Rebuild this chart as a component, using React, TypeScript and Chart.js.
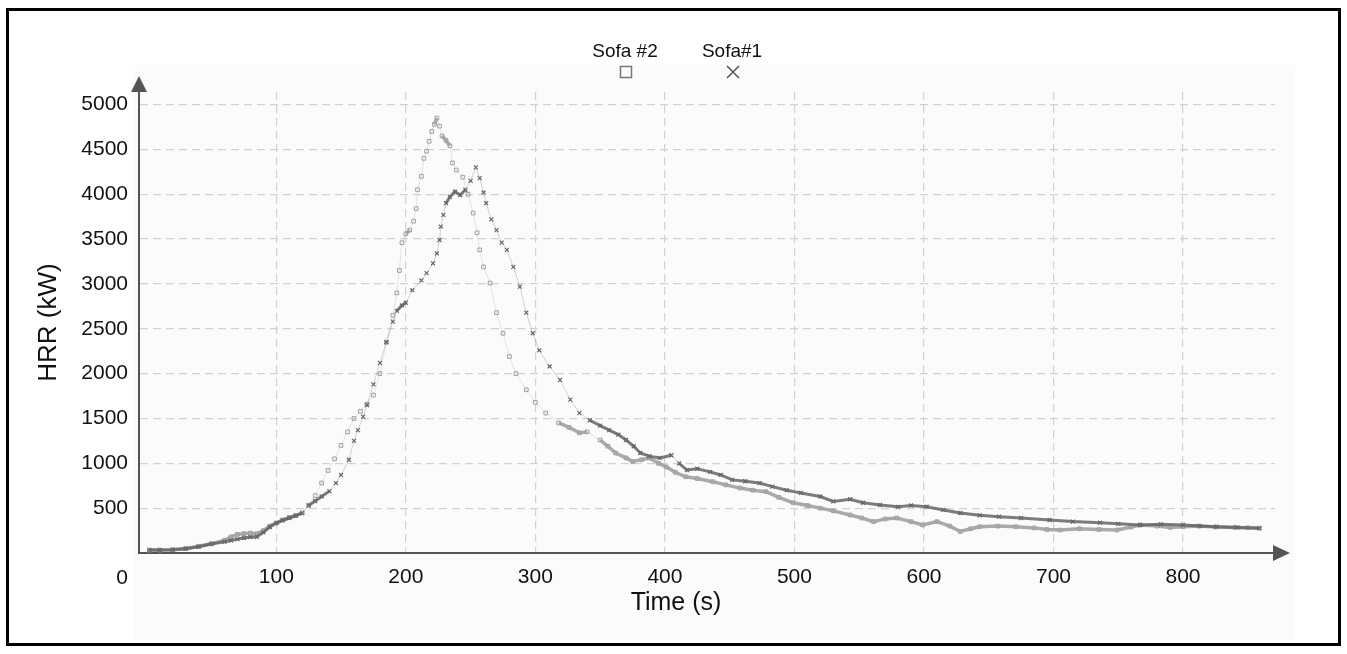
import React, { useEffect, useRef } from 'react';
import { Chart, registerables } from 'chart.js';

Chart.register(...registerables);

// Sofa #1 (× markers, darker)
const sofa1Time = [2, 10, 20, 30, 40, 50, 60, 65, 70, 75, 80, 85, 90, 95, 100, 105, 110, 115, 120, 125, 130, 135, 141, 146, 150, 156, 160, 163, 167, 170, 175, 180, 185, 190, 193, 197, 200, 205, 212, 216, 221, 224, 226, 227, 229, 231, 234, 238, 242, 246, 250, 254, 257, 260, 262, 266, 270, 274, 278, 283, 288, 293, 298, 303, 311, 319, 327, 334, 342, 350, 357, 364, 370, 376, 381, 388, 396, 405, 411, 417, 425, 435, 443, 452, 462, 473, 483, 494, 505, 520, 530, 543, 553, 566, 580, 590, 602, 615, 628, 643, 658, 675, 697, 715, 736, 750, 767, 783, 800, 813, 826, 842, 859];
const sofa1HRR = [33, 33, 36, 48, 70, 100, 125, 140, 155, 168, 178, 180, 230, 290, 334, 365, 390, 415, 445, 530, 580, 630, 690, 780, 870, 1040, 1250, 1370, 1520, 1650, 1880, 2120, 2350, 2580, 2700, 2760, 2790, 2930, 3040, 3120, 3230, 3340, 3490, 3640, 3770, 3900, 3970, 4030, 3990, 4050, 4150, 4300, 4180, 4020, 3900, 3720, 3600, 3460, 3380, 3190, 2970, 2680, 2450, 2260, 2080, 1930, 1710, 1560, 1480, 1420, 1370, 1320, 1260, 1190, 1115, 1080, 1060, 1090, 1000, 925, 940, 905, 870, 815, 800, 780, 740, 700, 670, 630, 575, 600, 560, 535, 515, 530, 516, 480, 446, 420, 405, 390, 368, 350, 338, 325, 312, 320, 312, 300, 293, 285, 275];

// Sofa #2 (□ markers, lighter)
const sofa2Time = [2, 10, 20, 30, 40, 50, 60, 65, 70, 75, 80, 85, 90, 95, 100, 105, 110, 115, 120, 125, 130, 135, 140, 145, 150, 155, 160, 165, 170, 175, 180, 185, 190, 193, 195, 197, 200, 203, 206, 208, 209, 212, 214, 216, 218, 220, 222, 224, 226, 228, 231, 234, 236, 239, 244, 248, 252, 255, 257, 260, 265, 270, 275, 280, 285, 293, 300, 308, 318, 326, 334, 340, 350, 356, 362, 370, 375, 382, 388, 395, 401, 408, 416, 425, 437, 447, 458, 468, 478, 488, 499, 510, 520, 530, 543, 552, 561, 570, 579, 590, 599, 610, 620, 628, 636, 643, 657, 671, 685, 695, 705, 720, 735, 749, 760, 767, 780, 790, 800, 812, 825, 840, 850, 859];
const sofa2HRR = [33, 33, 37, 50, 75, 105, 140, 180, 208, 216, 222, 215, 250, 300, 335, 368, 395, 420, 448, 530, 640, 780, 920, 1050, 1200, 1350, 1500, 1580, 1660, 1760, 2000, 2350, 2650, 2900, 3150, 3460, 3560, 3600, 3700, 3840, 4050, 4200, 4400, 4480, 4590, 4700, 4780, 4850, 4760, 4650, 4600, 4540, 4350, 4270, 4190, 4000, 3790, 3570, 3380, 3190, 3010, 2680, 2450, 2190, 2000, 1820, 1680, 1560, 1450, 1400, 1340, 1350, 1260, 1190, 1115, 1060, 1020, 1040, 1060, 1000, 960, 900, 850, 830, 795, 760, 725, 700, 684, 620, 560, 530, 500, 470, 424, 390, 350, 380, 390, 350, 312, 350, 300, 240, 270, 293, 300, 293, 280, 262, 256, 270, 262, 256, 290, 312, 300, 285, 293, 300, 290, 285, 282, 278];

const xTickValues = [100, 200, 300, 400, 500, 600, 700, 800];
const yTickValues = [500, 1000, 1500, 2000, 2500, 3000, 3500, 4000, 4500, 5000];
const seriesLabels = ['Sofa#1', 'Sofa #2'];
const xTitle = 'Time (s)';
const yTitle = 'HRR (kW)';
const originLabel = '0';

const SANS = '"Liberation Sans", Arial, sans-serif';

// steep segments (large vertical step) are drawn faint, like sparse markers in the original
const isSteep = (ctx: any) => Math.abs(ctx.p1.y - ctx.p0.y) > 7;

const decorPlugin = {
  id: 'decor',
  beforeDraw(chart: any) {
    const ctx = chart.ctx;
    ctx.save();
    ctx.fillStyle = '#fbfbfb';
    ctx.fillRect(135, 65, 1160, 575);
    ctx.restore();
  },
  afterDraw(chart: any) {
    const ctx = chart.ctx;
    const { left, right, top, bottom } = chart.chartArea;
    ctx.save();
    // axis arrows
    ctx.fillStyle = '#555';
    ctx.beginPath();
    ctx.moveTo(left, top - 16);
    ctx.lineTo(left - 8, top);
    ctx.lineTo(left + 8, top);
    ctx.closePath();
    ctx.fill();
    ctx.beginPath();
    ctx.moveTo(right + 15, bottom);
    ctx.lineTo(right - 2, bottom - 8);
    ctx.lineTo(right - 2, bottom + 8);
    ctx.closePath();
    ctx.fill();
    // origin label
    ctx.fillStyle = '#111';
    ctx.font = '21px ' + SANS;
    ctx.textAlign = 'center';
    ctx.textBaseline = 'alphabetic';
    ctx.fillText(originLabel, 122, 584);
    // x title
    ctx.font = '25px ' + SANS;
    ctx.fillText(xTitle, 676, 610);
    // legend (text above marker)
    ctx.font = '19px ' + SANS;
    ctx.fillText(seriesLabels[1], 625, 57);
    ctx.fillText(seriesLabels[0], 732, 57);
    ctx.strokeStyle = '#777';
    ctx.lineWidth = 1.5;
    ctx.strokeRect(620.5, 66.5, 11, 11);
    ctx.strokeStyle = '#555';
    ctx.beginPath();
    ctx.moveTo(727, 66);
    ctx.lineTo(739, 78);
    ctx.moveTo(739, 66);
    ctx.lineTo(727, 78);
    ctx.stroke();
    ctx.restore();
  },
};

export default function App() {
  const canvasRef = useRef<HTMLCanvasElement | null>(null);

  useEffect(() => {
    const canvas = canvasRef.current;
    if (!canvas) return;
    const chart = new Chart(canvas, {
      type: 'scatter',
      data: {
        datasets: [
          {
            label: seriesLabels[0],
            data: sofa1Time.map((t, i) => ({ x: t, y: sofa1HRR[i] })),
            showLine: true,
            borderColor: 'rgba(100,100,100,0.85)',
            borderWidth: 3,
            segment: {
              borderColor: (c: any) => (isSteep(c) ? 'rgba(110,110,110,0.3)' : 'rgba(100,100,100,0.85)'),
              borderWidth: (c: any) => (isSteep(c) ? 1 : 3),
            },
            pointStyle: 'crossRot',
            pointRadius: 2.8,
            pointBorderColor: '#666',
            pointBorderWidth: 1.2,
            pointBackgroundColor: 'rgba(0,0,0,0)',
          },
          {
            label: seriesLabels[1],
            data: sofa2Time.map((t, i) => ({ x: t, y: sofa2HRR[i] })),
            showLine: true,
            borderColor: 'rgba(155,155,155,0.85)',
            borderWidth: 3.5,
            segment: {
              borderColor: (c: any) => (isSteep(c) ? 'rgba(170,170,170,0.3)' : 'rgba(155,155,155,0.85)'),
              borderWidth: (c: any) => (isSteep(c) ? 1 : 3.5),
            },
            pointStyle: 'rect',
            pointRadius: 2.6,
            pointBorderColor: '#a0a0a0',
            pointBorderWidth: 1,
            pointBackgroundColor: 'rgba(0,0,0,0)',
          },
        ],
      },
      options: {
        animation: false,
        responsive: false,
        maintainAspectRatio: false,
        events: [],
        layout: { padding: { left: 0, top: 92, right: 72, bottom: 0 } },
        plugins: {
          legend: { display: false },
          tooltip: { enabled: false },
        },
        scales: {
          x: {
            type: 'linear',
            min: -6,
            max: 871,
            afterBuildTicks: (scale: any) => {
              scale.ticks = xTickValues.map((v) => ({ value: v }));
            },
            afterFit: (scale: any) => {
              scale.height = 101;
            },
            ticks: {
              color: '#111',
              font: { family: SANS, size: 21 },
              padding: 12,
              maxRotation: 0,
              autoSkip: false,
              callback: (v: any) => String(v),
            },
            grid: { color: '#d2d2d2', lineWidth: 1.2, drawTicks: false },
            border: { display: true, color: '#555', width: 2, dash: [8, 5] },
          },
          y: {
            type: 'linear',
            min: 0,
            max: 5140,
            afterBuildTicks: (scale: any) => {
              scale.ticks = yTickValues.map((v) => ({ value: v }));
            },
            afterFit: (scale: any) => {
              scale.width = 139;
            },
            ticks: {
              color: '#111',
              font: { family: SANS, size: 21 },
              padding: 11,
              autoSkip: false,
              callback: (v: any) => String(v),
            },
            grid: { color: '#d2d2d2', lineWidth: 1.2, drawTicks: false },
            border: { display: true, color: '#555', width: 2, dash: [8, 5] },
            title: {
              display: true,
              text: yTitle,
              color: '#111',
              font: { family: SANS, size: 26 },
              padding: { top: 33, bottom: 0 },
            },
          },
        },
      },
      plugins: [decorPlugin],
    });
    return () => chart.destroy();
  }, []);

  return (
    <div style={{ position: 'absolute', left: 0, top: 0, width: 1347, height: 654, background: '#fff' }}>
      <canvas ref={canvasRef} width={1347} height={654} style={{ position: 'absolute', left: 0, top: 0, width: 1347, height: 654 }} />
      <div
        style={{
          position: 'absolute',
          left: 6,
          top: 8,
          width: 1335,
          height: 638,
          border: '3px solid #000',
          boxSizing: 'border-box',
          pointerEvents: 'none',
        }}
      />
    </div>
  );
}
